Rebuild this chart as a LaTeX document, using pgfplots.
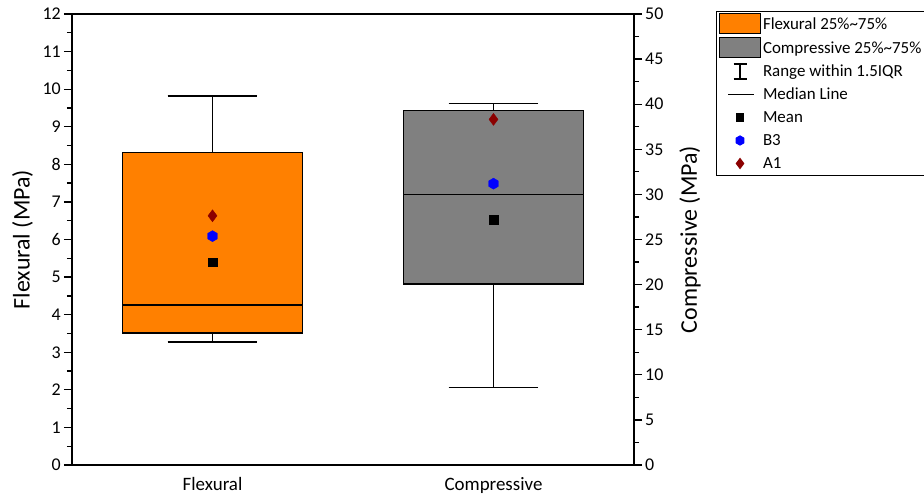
\documentclass[border=0pt]{standalone}
\usepackage{pgfplots}
\pgfplotsset{compat=1.18}
\usepgfplotslibrary{statistics}
\usepackage{fontspec}
\setmainfont{Carlito}
\definecolor{forange}{HTML}{FF8000}
\definecolor{fgray}{HTML}{808080}
\definecolor{a1red}{HTML}{8B0000}
\pgfdeclareplotmark{hexagon*}{%
  \pgfpathmoveto{\pgfqpointpolar{90}{\pgfplotmarksize}}%
  \pgfpathlineto{\pgfqpointpolar{150}{\pgfplotmarksize}}%
  \pgfpathlineto{\pgfqpointpolar{210}{\pgfplotmarksize}}%
  \pgfpathlineto{\pgfqpointpolar{270}{\pgfplotmarksize}}%
  \pgfpathlineto{\pgfqpointpolar{330}{\pgfplotmarksize}}%
  \pgfpathlineto{\pgfqpointpolar{30}{\pgfplotmarksize}}%
  \pgfpathclose
  \pgfusepathqfillstroke
}
\pgfplotsset{
  common/.style={
    scale only axis, width=562bp, height=451bp,
    xmin=0.5, xmax=2.5,
    tick align=outside,
    major tick length=8bp, minor tick length=5bp,
    every tick/.style={black, line width=1.3bp},
    axis line style={line width=1.5bp},
    tick label style={font=\fontsize{18}{20}\selectfont},
    label style={font=\fontsize{24}{26}\selectfont},
    /pgf/number format/assume math mode=true,
    boxplot/draw direction=y,
    clip=false,
  },
  boxplot/every box/.style={draw=black, line width=1.6bp},
  boxplot/every whisker/.style={draw=black, line width=1.6bp},
  boxplot/every median/.style={draw=black, line width=1.6bp},
}
\begin{document}
\begin{tikzpicture}
\path[use as bounding box] (-72bp,-30bp) rectangle (852bp,465bp);
\begin{axis}[common,
  ymin=0, ymax=12, ytick={0,1,...,12}, minor y tick num=1,
  ytick pos=left,
  xtick={1,2}, xticklabels={Flexural,Compressive},
  x tick style={draw=none},
  xticklabel style={font=\fontsize{19}{21}\selectfont, yshift=-1bp},
  yticklabel style={inner sep=3bp},
  ylabel={Flexural (MPa)},
  ylabel style={at={(axis description cs:-0.088,0.5)}, anchor=center},
]
\addplot[boxplot prepared={lower whisker=3.28, lower quartile=3.52, median=4.25,
  upper quartile=8.32, upper whisker=9.82, draw position=1,
  box extend=0.64, whisker extend=0.32},
  draw=black, fill=forange, line width=1.6bp] coordinates {};
\addplot[only marks, mark=square*, mark size=4.2bp, black] coordinates {(1,5.39)};
\addplot[only marks, mark=hexagon*, mark size=5.5bp, blue] coordinates {(1,6.09)};
\addplot[only marks, mark=diamond*, mark size=6bp, a1red] coordinates {(1,6.63)};
\end{axis}
\begin{axis}[common,
  axis y line*=right, axis x line=none,
  tick align=outside,
  ymin=0, ymax=50, ytick={0,5,...,50}, minor y tick num=1,
  yticklabel style={inner sep=3bp},
  ylabel={Compressive (MPa)},
  ylabel style={at={(axis description cs:1.0996,0.5)}, anchor=center},
  legend style={at={(axis description cs:1,1)}, anchor=north west,
    xshift=82bp, yshift=3bp, draw=black, line width=1bp,
    font=\fontsize{17}{19}\selectfont, inner xsep=2bp, inner ysep=2bp,
    row sep=3bp, cells={anchor=west}},
  legend cell align=left,
]
\addlegendimage{legend image code/.code={\draw[draw=black, fill=forange, line width=1bp] (0bp,-10bp) rectangle (41bp,10bp);}}
\addlegendentry{Flexural 25\%\textasciitilde 75\%}
\addlegendimage{legend image code/.code={\draw[draw=black, fill=fgray, line width=1bp] (0bp,-10bp) rectangle (41bp,10bp);}}
\addlegendentry{Compressive 25\%\textasciitilde 75\%}
\addlegendimage{legend image code/.code={\path[draw=none,fill=none] (0bp,-10bp) rectangle (42bp,10bp);
  \draw[black, line width=1.1bp] (21bp,-7.5bp) -- (21bp,7.5bp) (14.5bp,7.5bp) -- (27.5bp,7.5bp) (14.5bp,-7.5bp) -- (27.5bp,-7.5bp);}}
\addlegendentry{Range within 1.5IQR}
\addlegendimage{legend image code/.code={\path[draw=none,fill=none] (0bp,-10bp) rectangle (42bp,10bp);
  \draw[black, line width=1.3bp] (9bp,0bp) -- (35bp,0bp);}}
\addlegendentry{Median Line}
\addlegendimage{legend image code/.code={\path[draw=none,fill=none] (0bp,-10bp) rectangle (42bp,10bp);
  \draw[black, mark=square*, mark size=3.6bp] plot coordinates {(21bp,0bp)};}}
\addlegendentry{Mean}
\addlegendimage{legend image code/.code={\path[draw=none,fill=none] (0bp,-10bp) rectangle (42bp,10bp);
  \draw[blue, mark=hexagon*, mark size=4.6bp] plot coordinates {(21bp,0bp)};}}
\addlegendentry{B3}
\addlegendimage{legend image code/.code={\path[draw=none,fill=none] (0bp,-10bp) rectangle (42bp,10bp);
  \draw[a1red, mark=diamond*, mark size=5bp] plot coordinates {(21bp,0bp)};}}
\addlegendentry{A1}
\addplot[forget plot, boxplot prepared={lower whisker=8.57, lower quartile=20.07, median=29.97,
  upper quartile=39.28, upper whisker=40.06, draw position=2,
  box extend=0.64, whisker extend=0.32},
  draw=black, fill=fgray, line width=1.6bp] coordinates {};
\addplot[forget plot, only marks, mark=square*, mark size=4.2bp, black] coordinates {(2,27.20)};
\addplot[forget plot, only marks, mark=hexagon*, mark size=5.5bp, blue] coordinates {(2,31.19)};
\addplot[forget plot, only marks, mark=diamond*, mark size=6bp, a1red] coordinates {(2,38.32)};
\end{axis}
\end{tikzpicture}
\end{document}
